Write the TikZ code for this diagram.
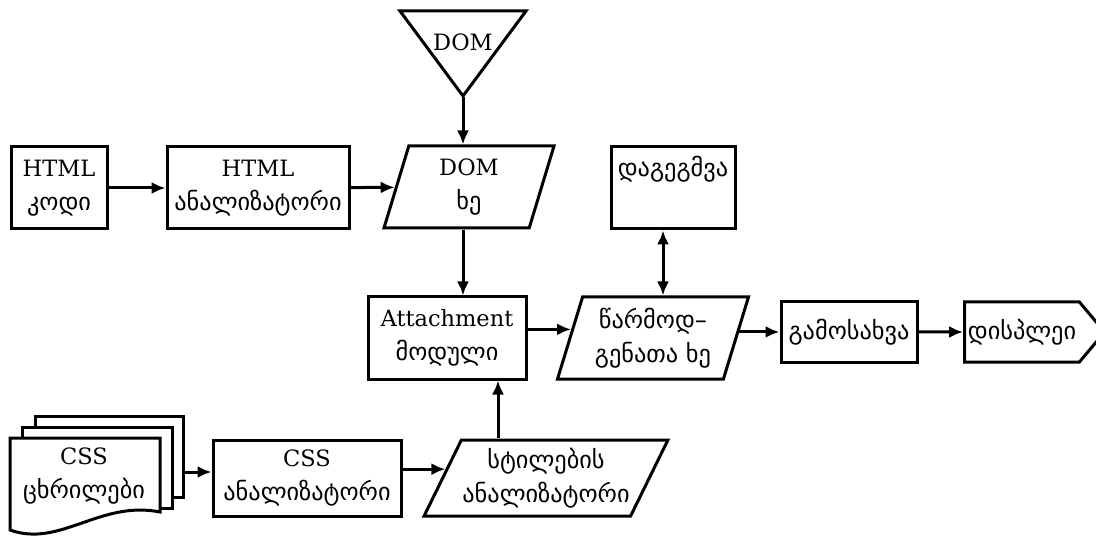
\documentclass[tikz,border=0pt]{standalone}
\usepackage{fontspec}
\setmainfont{DejaVu Serif}
\newfontfamily\geo[Scale=1.08]{DejaVu Sans}
\usetikzlibrary{shapes.geometric,shapes.symbols,arrows.meta}

\tikzset{
  box/.style={draw, line width=3pt, minimum width=#1, minimum height=82, inner sep=1pt, align=center},
  slant/.style={trapezium, trapezium stretches body, draw, line width=3pt, minimum height=82, inner sep=1pt, align=center},
  flow/.style={-{Latex[length=14pt,width=12pt]}, line width=3pt},
  bothflow/.style={{Latex[length=14pt,width=12pt]}-{Latex[length=14pt,width=12pt]}, line width=3pt}
}

\begin{document}
\begin{tikzpicture}[x=1pt, y=-1pt, font=\fontsize{22.5}{34}\selectfont]
    \useasboundingbox (0,0) rectangle (1096,540);

    % triangle DOM
    \draw[line width=3pt, line join=miter] (400,11) -- (526,11) -- (463,96) -- cycle;
    \node (dom) at (463,42) {DOM};
    \coordinate (domapex) at (463,97);

    % top row
    \node[box=96] (htmlcode) at (59,188) {HTML\\{\geo კოდი}};
    \node[box=182] (htmlparse) at (258,188) {HTML\\{\geo ანალიზატორი}};
    \node[slant, trapezium left angle=67, trapezium right angle=113, minimum width=170] (domtree) at (469,187) {DOM\\{\geo ხე}};
    \node[box=124] (planning) at (673,188) {{\geo დაგეგმვა}\\\strut};

    % middle row
    \node[box=158] (attach) at (447,338) {Attachment\\{\geo მოდული}};
    \node[slant, trapezium left angle=68, trapezium right angle=112, minimum width=191] (rendertree) at (653,338) {{\geo წარმოდ–}\\{\geo გენათა ხე}};
    \node[box=136, minimum height=60] (paint) at (849,332) {\geo გამოსახვა};
    \node[signal, signal to=east, signal pointer angle=100, draw, line width=3pt, minimum width=140, minimum height=60, inner sep=1pt] (display) at (1022,332) {\geo დისპლეი};

    % CSS documents
    \draw[line width=3pt] (35,427) -- (35,416) -- (183,416) -- (183,497) -- (172,497);
    \draw[line width=3pt] (22,438) -- (22,427) -- (172,427) -- (172,508) -- (160,508);
    \draw[line width=3pt, fill=white] (10,438) -- (160,438) -- (160,512)
        .. controls (100,500) and (60,548) .. (10,530) -- cycle;
    \node[align=center] (cssdocs) at (84,476) {CSS\\{\geo ცხრილები}};
    \coordinate (docsout) at (183,472);

    % bottom row
    \node[box=188, minimum height=76] (cssparse) at (307,478) {CSS\\{\geo ანალიზატორი}};
    \node[slant, trapezium left angle=59, trapezium right angle=121, minimum width=240, minimum height=76] (styleparse) at (546,478) {{\geo სტილების}\\{\geo ანალიზატორი}};
    \coordinate (attachin) at ([xshift=51pt]attach.south);

    % connectors
    \draw[flow] (htmlcode) -- (htmlparse);
    \draw[flow] (htmlparse) -- (domtree);
    \draw[flow] (domapex) -- (domapex |- domtree.north);
    \draw[flow] (domapex |- domtree.south) -- (domapex |- attach.north);
    \draw[flow] (rendertree.174 -| attach.east) -- (rendertree.174);
    \draw[bothflow] ([xshift=-10pt]planning.south) -- ([xshift=-10pt]planning.south |- rendertree.north);
    \draw[flow] (rendertree.4) -- (rendertree.4 -| paint.west);
    \draw[flow] (paint) -- (display);
    \draw[flow] (docsout) -- (docsout -| cssparse.west);
    \draw[flow] (styleparse.175 -| cssparse.east) -- (styleparse.175);
    \draw[flow] (styleparse.north -| attachin) -- (attachin);
\end{tikzpicture}
\end{document}
